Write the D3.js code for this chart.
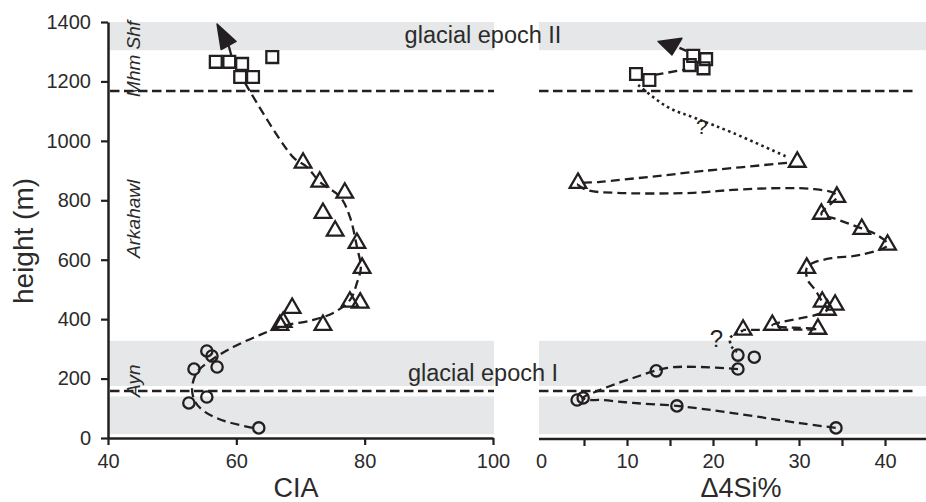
<!DOCTYPE html>
<html>
<head>
<meta charset="utf-8">
<script src="https://cdn.jsdelivr.net/npm/d3@7"></script>
<style>
  html, body { margin: 0; padding: 0; background: #fff; }
  svg { display: block; font-family: "Liberation Sans", Arial, Helvetica, sans-serif; }
</style>
</head>
<body>
<div id="grafico"></div>
<script>
// ---- CIA panel (x = CIA, y = height in m) ----
const ciaSquares = [[56.8,1266],[58.9,1266],[60.9,1259],[60.6,1215],[62.6,1215],[65.6,1282]];
const ciaTriangles = [[70.4,926],[73.0,862],[76.9,825],[73.5,757],[75.4,697],[78.8,656],[79.6,572],
                      [77.7,458],[79.3,455],[73.5,380],[68.7,437],[66.8,380],[67.3,390]];
const ciaCircles = [[55.4,293],[56.2,276],[57.0,239],[53.4,232],[55.4,138],[52.6,118],[63.5,34]];
const ciaTrend = [[61.35,1195],[68.8,946],[71.0,912],[73.0,862],[76.2,811],[77.7,744],[78.8,643],
                  [79.4,572],[78.8,522],[77.7,464],[75.1,421],[71.9,397],[67.3,377],[63.7,347],
                  [59.5,306],[55.9,259],[53.9,222],[53.1,168],[53.6,121],[55.1,88],[58.2,57],[62.6,34]];
const ciaArrowShaft = [[59.2,1289],[58.8,1321]];
const ciaArrowHead = { base: [58.8,1321], tip: [57.0,1393], width: 17 };

// ---- Δ4Si% panel ----
const siSquares = [[11.05,1225],[12.6,1205],[17.7,1286],[19.2,1275],[17.3,1255],[18.9,1244]];
const siTriangles = [[29.8,929],[4.3,858],[34.4,811],[32.6,754],[37.3,703],[40.3,650],[30.9,572],
                     [32.7,458],[34.2,448],[33.3,431],[26.9,380],[32.2,367],[23.5,364]];
const siCircles = [[22.9,279],[24.8,272],[22.9,232],[13.4,226],[4.2,128],[4.9,135],[15.8,108],[34.3,34]];
const siTopLink = [[13.2,1222],[16.8,1240]];
const siDotted = [[11.3,1188],[14.7,1114],[17.9,1077],[22.3,1027],[28.6,946]];
const siMain = [[28.6,926],[19.0,899],[12.7,879],[6.9,862],[4.3,855],[5.3,835],[8.8,825],[17.7,825],
                [22.3,835],[28.1,841],[31.6,838],[34.0,825],[34.4,811],[32.6,754],[34.0,740],[37.1,707],
                [39.1,683],[40.3,650],[37.1,616],[34.0,606],[31.6,589],[30.9,572],[31.0,532],[31.9,498],
                [32.7,458],[33.3,431],[26.9,380],[32.2,367],[23.5,364]];
const siDottedLow = [[23.5,362],[22.0,337],[22.2,306],[22.8,290]];
const siLow = [[22.9,232],[18.5,239],[14.7,236],[10.7,202],[6.9,162],[4.9,135],[5.7,128],[6.9,128],
               [10.7,118],[15.8,108],[22.3,84],[30.1,50],[34.3,34]];
const siArrowShaft = [[16.1,1313],[16.9,1303]];
const siArrowHead = { base: [15.0,1340], tip: [15.23,1289], width: 24 };
const siQuestions = [{ x: 18.7, h: 1022, size: 21 }, { x: 20.4, h: 305, size: 24 }];

// ---- axes, bands, labels ----
const heightTicks = [0,200,400,600,800,1000,1200,1400];
const ciaTicks = [40,60,80,100];
const siTicks = [0,5,10,15,20,25,30,35,40];
const siLabelled = [0,10,20,30,40];
const glacialBands = [[1305,1400],[175,327],[13,140]];
const boundaries = [158,1168];
const unitLabels = [{ name: "Mhm Shf", h: 1148 }, { name: "Arkahawl", h: 606 }, { name: "Ayn", h: 138 }];
const epochLabels = [{ name: "glacial epoch II", h: 1329 }, { name: "glacial epoch I", h: 192 }];

const ink = "#231f20";
const W = 926, H = 502;

const y = d3.scaleLinear().domain([0, 1400]).range([438, 22]);
const xL = d3.scaleLinear().domain([40, 100]).range([108, 493]);
const xR = d3.scaleLinear().domain([0, 45]).range([541, 928]);
const leftEdge = [108, 494], rightEdge = [539, 926];

const svg = d3.select("#grafico").append("svg")
    .attr("width", W).attr("height", H);

// grey glacial bands
[[xL, leftEdge], [xR, rightEdge]].forEach(([x, ext]) => {
    svg.selectAll(null).data(glacialBands).enter().append("rect")
        .attr("x", ext[0]).attr("width", ext[1] - ext[0])
        .attr("y", d => y(d[1])).attr("height", d => y(d[0]) - y(d[1]))
        .attr("fill", "#e6e7e8");
});

// formation boundaries
boundaries.forEach(b => {
    svg.append("line").attr("x1", leftEdge[0] + 2).attr("x2", leftEdge[1])
        .attr("y1", y(b)).attr("y2", y(b));
    svg.append("line").attr("x1", rightEdge[0]).attr("x2", 913)
        .attr("y1", y(b)).attr("y2", y(b));
});
svg.selectAll("line").attr("stroke", ink).attr("stroke-width", 2.4).attr("stroke-dasharray", "9.5,4.5");

// epoch labels
svg.selectAll(null).data(epochLabels).enter().append("text")
    .attr("x", 483).attr("y", d => y(d.h))
    .attr("text-anchor", "middle").attr("font-size", 23.5).attr("fill", "#2b2b2b")
    .text(d => d.name);

// unit labels
svg.selectAll(null).data(unitLabels).enter().append("text")
    .attr("transform", d => `translate(139.5,${y(d.h)}) rotate(-90)`)
    .attr("font-size", 19).attr("font-style", "italic").attr("fill", "#2b2b2b")
    .text(d => d.name);

// trend lines
function trend(data, x, dash, curve = true, width = 2.3) {
    const line = d3.line().x(d => x(d[0])).y(d => y(d[1]));
    if (curve) line.curve(d3.curveCatmullRom.alpha(0.5));
    svg.append("path").attr("d", line(data))
        .attr("fill", "none").attr("stroke", ink).attr("stroke-width", width)
        .attr("stroke-dasharray", dash);
}
trend(ciaTrend, xL, "9,5");
trend(siTopLink, xR, "9,5", false);
trend(siDotted, xR, "2.6,3.4", true, 2.6);
trend(siMain, xR, "9,5");
trend(siDottedLow, xR, "2.6,3.4", true, 2.6);
trend(siLow, xR, "9,5");
trend(ciaArrowShaft, xL, null, false);
trend(siArrowShaft, xR, null, false);

// arrow heads
function arrowHead(a, x) {
    const bx = x(a.base[0]), by = y(a.base[1]), tx = x(a.tip[0]), ty = y(a.tip[1]);
    const len = Math.hypot(tx - bx, ty - by);
    const nx = -(ty - by) / len * a.width / 2, ny = (tx - bx) / len * a.width / 2;
    svg.append("path")
        .attr("d", `M${tx},${ty}L${bx + nx},${by + ny}L${bx - nx},${by - ny}Z`)
        .attr("fill", ink).attr("stroke", ink).attr("stroke-width", 1.5).attr("stroke-linejoin", "round");
}
arrowHead(ciaArrowHead, xL);
arrowHead(siArrowHead, xR);

// question marks
svg.selectAll(null).data(siQuestions).enter().append("text")
    .attr("x", d => xR(d.x)).attr("y", d => y(d.h))
    .attr("text-anchor", "middle").attr("font-size", d => d.size).attr("fill", ink)
    .text("?");

// markers
function markers(data, x, type, size) {
    svg.selectAll(null).data(data).enter().append("path")
        .attr("transform", d => `translate(${x(d[0])},${y(d[1])})`)
        .attr("d", d3.symbol(type, size)())
        .attr("fill", "none").attr("stroke", ink).attr("stroke-width", 2.3)
        .attr("stroke-linejoin", "miter");
}
markers(ciaSquares, xL, d3.symbolSquare, 140);
markers(ciaTriangles, xL, d3.symbolTriangle, 120);
markers(ciaCircles, xL, d3.symbolCircle, 100);
markers(siSquares, xR, d3.symbolSquare, 140);
markers(siTriangles, xR, d3.symbolTriangle, 120);
markers(siCircles, xR, d3.symbolCircle, 100);

// axes
function style(g) {
    g.selectAll(".domain").attr("stroke", ink).attr("stroke-width", 2.5);
    g.selectAll(".tick line").attr("stroke", ink).attr("stroke-width", 2.2);
    g.selectAll(".tick text").attr("fill", "#2b2b2b").attr("font-size", 20)
        .attr("font-family", "Liberation Sans, Arial, sans-serif");
}
svg.append("g").attr("transform", `translate(${xL(40)},0)`)
    .call(d3.axisLeft(y).tickValues(heightTicks).tickSize(7).tickSizeOuter(0).tickPadding(10)
        .tickFormat(d3.format("d")))
    .call(style);
svg.append("g").attr("transform", `translate(0,${y(0)})`)
    .call(d3.axisBottom(xL).tickValues(ciaTicks).tickSize(7).tickSizeOuter(0).tickPadding(9))
    .call(style);
const gR = svg.append("g").attr("transform", `translate(0,${y(0) + 1})`)
    .call(d3.axisBottom(xR).tickValues(siTicks).tickSize(7).tickSizeOuter(0).tickPadding(8)
        .tickFormat(d => siLabelled.includes(d) ? d : ""))
    .call(style);
gR.select(".domain").remove();
gR.selectAll(".tick").filter(d => d === 0).select("line").remove();
gR.append("line").attr("x1", rightEdge[0]).attr("x2", rightEdge[1])
    .attr("stroke", ink).attr("stroke-width", 2.5);

// axis titles
svg.append("text").attr("transform", "translate(33,241) rotate(-90)")
    .attr("text-anchor", "middle").attr("font-size", 28).attr("fill", "#2b2b2b").text("height (m)");
svg.append("text").attr("x", 296).attr("y", 497)
    .attr("text-anchor", "middle").attr("font-size", 27).attr("fill", "#2b2b2b").text("CIA");
svg.append("text").attr("x", 741).attr("y", 497)
    .attr("text-anchor", "middle").attr("font-size", 27).attr("fill", "#2b2b2b").text("Δ4Si%");
</script>
</body>
</html>
